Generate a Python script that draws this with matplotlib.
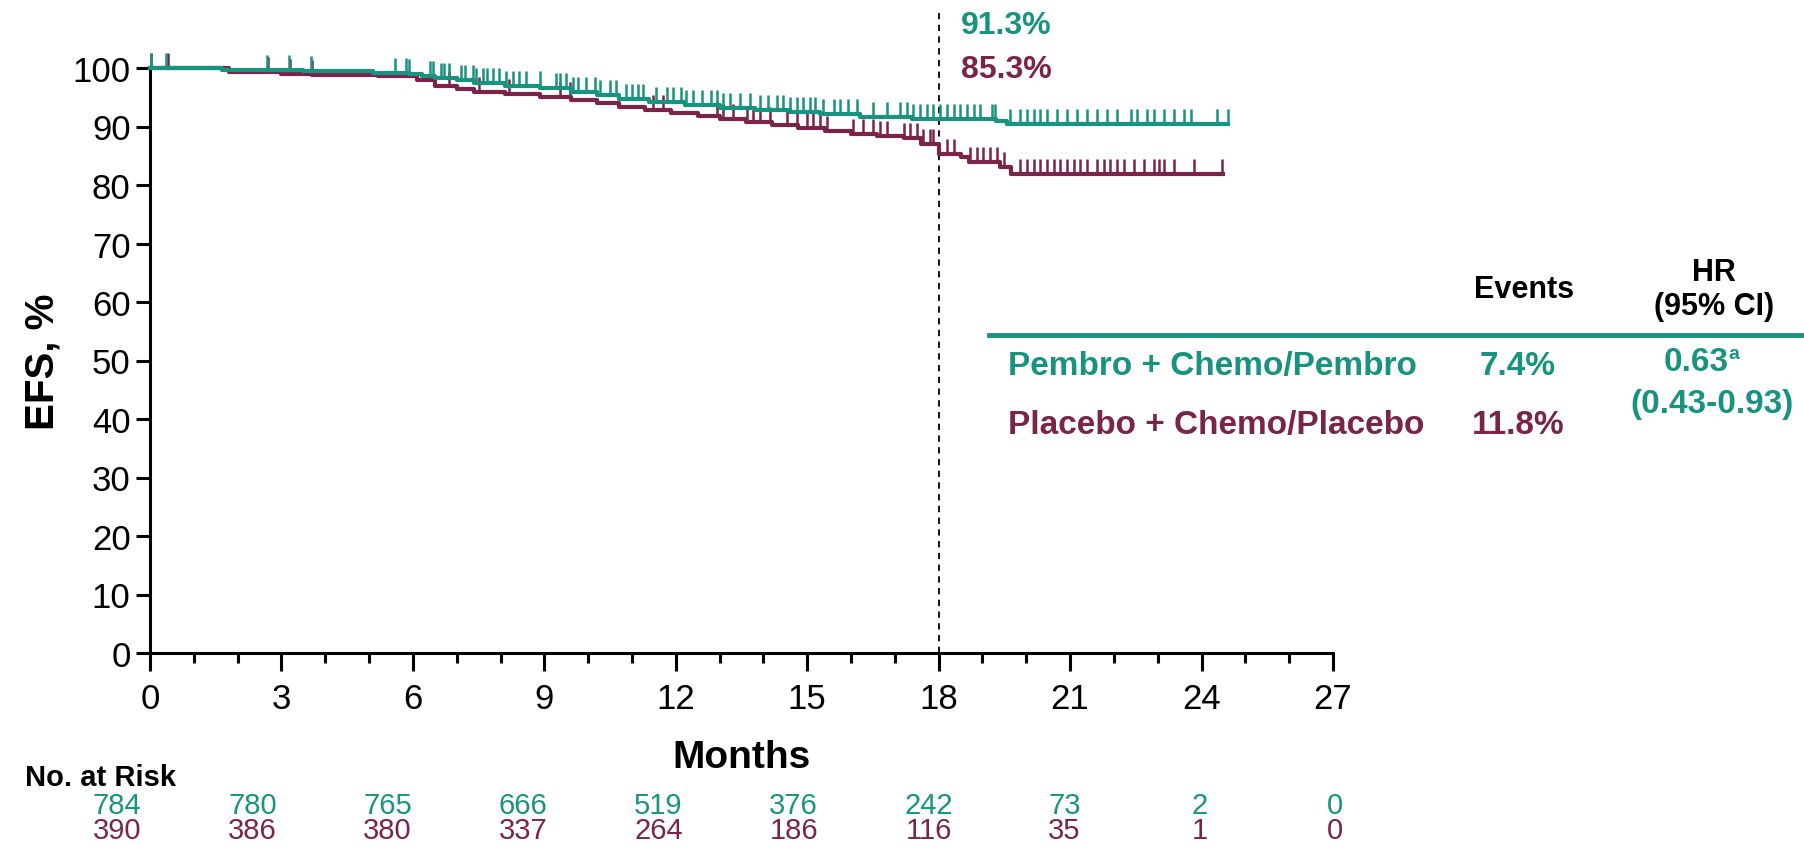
import matplotlib
matplotlib.use("Agg")
import matplotlib.pyplot as plt
import numpy as np

plt.rcParams['font.family'] = ['Liberation Sans', 'DejaVu Sans']

TEAL = '#18937f'
MAROON = '#7a244a'

# Kaplan-Meier steps (months, EFS %)
pembro_t = [0, 1.65, 3.5, 5.1, 5.9, 6.2, 6.5, 7.0, 7.4, 8.1, 8.9, 9.6, 10.2, 10.7,
            11.4, 12.2, 13.0, 13.8, 14.6, 15.3, 16.2, 17.4, 19.3, 19.55]
pembro_s = [100, 99.7, 99.5, 99.2, 99.0, 98.7, 98.3, 97.9, 97.5, 97.0, 96.5, 95.9,
            95.3, 94.7, 94.2, 93.7, 93.2, 92.8, 92.5, 92.2, 91.7, 91.3, 90.9, 90.4]
pembro_end = 24.6

placebo_t = [0, 1.8, 3.0, 3.7, 5.2, 6.1, 6.5, 7.0, 7.4, 8.1, 8.9, 9.6, 10.2, 10.7,
             11.3, 11.9, 12.5, 13.0, 13.6, 14.2, 14.8, 15.4, 16.0, 16.6, 17.2, 17.6,
             18.0, 18.5, 18.7, 19.4, 19.65]
placebo_s = [100, 99.4, 99.0, 98.8, 98.6, 98.0, 97.0, 96.4, 95.9, 95.5, 95.0, 94.5,
             94.0, 93.4, 92.9, 92.3, 91.8, 91.2, 90.7, 90.2, 89.7, 89.2, 88.8, 88.3,
             88.0, 87.0, 85.3, 84.8, 83.9, 83.0, 81.8]
placebo_end = 24.5

# censored observations
pembro_cens = [0.02, 0.36, 2.68, 3.18, 3.67, 5.6, 5.85, 5.92, 6.38, 6.45, 6.64, 6.72,
               6.83, 7.1, 7.18, 7.37, 7.45, 7.6, 7.7, 7.82, 7.97, 8.13, 8.28, 8.43,
               8.59, 8.89, 9.27, 9.35, 9.5, 9.65, 9.77, 9.96, 10.15, 10.26, 10.49,
               10.64, 10.87, 10.99, 11.14, 11.25, 11.56, 11.79, 11.94, 12.13, 12.24,
               12.4, 12.59, 12.81, 12.93, 13.08, 13.23, 13.46, 13.69, 13.92, 14.11,
               14.3, 14.45, 14.61, 14.76, 14.91, 15.06, 15.18, 15.37, 15.6, 15.75,
               15.94, 16.13, 16.51, 16.82, 17.12, 17.27, 17.42, 17.58, 17.73, 17.88,
               18.03, 18.19, 18.34, 18.49, 18.64, 18.8, 18.95, 19.22, 19.29, 19.63,
               19.86, 20.02, 20.17, 20.32, 20.47, 20.7, 20.93, 21.16, 21.39, 21.62,
               21.84, 22.07, 22.38, 22.53, 22.76, 22.91, 23.14, 23.37, 23.6, 23.75,
               24.36, 24.6]
placebo_cens = [0.03, 0.4, 2.7, 3.2, 3.7, 6.83, 7.5, 8.2, 9.35, 9.58, 11.48, 11.71,
                12.93, 13.08, 13.31, 13.62, 13.77, 13.92, 14.15, 14.53, 14.76, 14.99,
                15.14, 15.29, 15.44, 16.05, 16.28, 16.51, 16.66, 16.82, 17.2, 17.35,
                17.5, 17.65, 17.81, 17.88, 18.19, 18.34, 18.72, 18.87, 19.02, 19.18,
                19.33, 19.48, 19.86, 20.02, 20.17, 20.32, 20.47, 20.63, 20.78, 20.93,
                21.08, 21.23, 21.39, 21.62, 21.77, 21.92, 22.07, 22.22, 22.45, 22.68,
                22.91, 23.03, 23.14, 23.37, 23.83, 24.47]

landmark = 18
pembro_at_landmark = '91.3%'
placebo_at_landmark = '85.3%'

arms = ['Pembro + Chemo/Pembro', 'Placebo + Chemo/Placebo']
events = ['7.4%', '11.8%']
hr = '0.63'
hr_ci = '(0.43-0.93)'

pembro_risk = [784, 780, 765, 666, 519, 376, 242, 73, 2, 0]
placebo_risk = [390, 386, 380, 337, 264, 186, 116, 35, 1, 0]

W, H = 1804, 854
fig = plt.figure(figsize=(W / 100, H / 100), dpi=100)
ax = fig.add_axes([150 / W, 1 - 654 / H, (1333 - 150) / W, (654 - 69) / H])


def px(x, y):
    return x / W, 1 - y / H


def km_curve(t, s, end, cens, color):
    tt = list(t) + [end]
    ss = list(s) + [s[-1]]
    ax.step(tt, ss, where='post', color=color, lw=3.0, clip_on=False, zorder=3)
    idx = np.searchsorted(t, cens, side='right') - 1
    ax.plot(cens, np.array(s)[idx], linestyle='none', marker=2, ms=11, mew=1.8,
            color=color, clip_on=False, zorder=3)


km_curve(placebo_t, placebo_s, placebo_end, placebo_cens, MAROON)
km_curve(pembro_t, pembro_s, pembro_end, pembro_cens, TEAL)

ax.plot([landmark, landmark], [0, 110], color='black', lw=1.3,
        linestyle=(0, (3.5, 3)), clip_on=False, zorder=2)
ax.text(landmark + 0.5, 107.4, pembro_at_landmark, color=TEAL, fontsize=23,
        fontweight='bold', va='center', ha='left')
ax.text(landmark + 0.5, 99.8, placebo_at_landmark, color=MAROON, fontsize=23,
        fontweight='bold', va='center', ha='left')

ax.set_xlim(0, 27)
ax.set_ylim(0, 100)
ax.set_xticks(range(0, 28, 3))
ax.set_xticks(range(0, 28), minor=True)
ax.set_yticks(range(0, 101, 10))
for side in ['top', 'right']:
    ax.spines[side].set_visible(False)
for side in ['left', 'bottom']:
    ax.spines[side].set_linewidth(2.2)
ax.tick_params(axis='x', which='major', length=13, width=2.2, labelsize=25, pad=8)
ax.tick_params(axis='x', which='minor', length=7, width=2.2)
ax.tick_params(axis='y', which='major', length=10, width=2.2, labelsize=25, pad=4)
ax.set_ylabel('EFS, %', fontsize=29, fontweight='bold', labelpad=8)
ax.set_xlabel('Months', fontsize=28, fontweight='bold', labelpad=17)

# summary table on the right
fig.text(*px(1524, 290), 'Events', fontsize=22, fontweight='bold', ha='center', va='center')
fig.text(*px(1714, 273), 'HR', fontsize=22, fontweight='bold', ha='center', va='center')
fig.text(*px(1714, 307), '(95% CI)', fontsize=22, fontweight='bold', ha='center', va='center')
fig.add_artist(plt.Line2D([989 / W, 1.0], [1 - 336 / H] * 2, color=TEAL, lw=3.5))
for name, ev, y, c in zip(arms, events, [367, 426], [TEAL, MAROON]):
    fig.text(*px(1008, y), name, fontsize=24, fontweight='bold', color=c, ha='left', va='center')
    fig.text(*px(1518, y), ev, fontsize=24, fontweight='bold', color=c, ha='center', va='center')
fig.text(*px(1696, 363), hr, fontsize=24, fontweight='bold', color=TEAL, ha='center', va='center')
fig.text(*px(1728, 355), 'a', fontsize=14, fontweight='bold', color=TEAL, ha='left', va='center')
fig.text(*px(1712, 405), hr_ci, fontsize=24, fontweight='bold', color=TEAL, ha='center', va='center')

# numbers at risk, one column per 3-month interval
fig.text(*px(25, 778), 'No. at Risk', fontsize=21, fontweight='bold', ha='left', va='center')
col_left, col_right = 117, 1335
for i, (a, b) in enumerate(zip(pembro_risk, placebo_risk)):
    x = col_left + i * (col_right - col_left) / (len(pembro_risk) - 1)
    fig.text(*px(x, 806), str(a), fontsize=21, color=TEAL, ha='center', va='center')
    fig.text(*px(x, 831), str(b), fontsize=21, color=MAROON, ha='center', va='center')

fig.savefig('out.png', dpi=100)
